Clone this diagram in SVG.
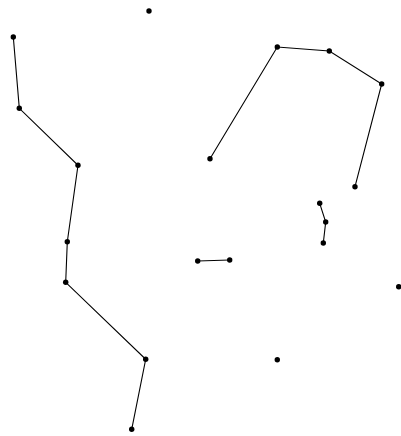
<svg xmlns="http://www.w3.org/2000/svg" width="401" height="436" viewBox="0 0 401 436">
<style>
.e{stroke:#000;stroke-width:1.1;fill:none}
.n{fill:#000}
</style>
<rect width="401" height="436" fill="#fff"/>
<g id="edges">
<polyline class="e" points="13.3,37 19.3,108.3 78,165.3 67.3,241.7 65.7,282.3 145.7,359.3 131.7,429.3"/>
<polyline class="e" points="210,158.7 277.3,47 329.3,51 381.7,84 355,186.7"/>
<polyline class="e" points="319.7,203.3 325.7,222 323.3,243"/>
<line class="e" x1="197.7" y1="261" x2="229.7" y2="260"/>
</g>
<g id="n1"><circle class="n" cx="149" cy="11" r="2.7"/></g>
<g id="n2"><circle class="n" cx="13.3" cy="37" r="2.7"/></g>
<g id="n3"><circle class="n" cx="19.3" cy="108.3" r="2.7"/></g>
<g id="n4"><circle class="n" cx="78" cy="165.3" r="2.7"/></g>
<g id="n5"><circle class="n" cx="67.3" cy="241.7" r="2.7"/></g>
<g id="n6"><circle class="n" cx="65.7" cy="282.3" r="2.7"/></g>
<g id="n7"><circle class="n" cx="145.7" cy="359.3" r="2.7"/></g>
<g id="n8"><circle class="n" cx="131.7" cy="429.3" r="2.7"/></g>
<g id="n9"><circle class="n" cx="210" cy="158.7" r="2.7"/></g>
<g id="n10"><circle class="n" cx="277.3" cy="47" r="2.7"/></g>
<g id="n11"><circle class="n" cx="329.3" cy="51" r="2.7"/></g>
<g id="n12"><circle class="n" cx="381.7" cy="84" r="2.7"/></g>
<g id="n13"><circle class="n" cx="355" cy="186.7" r="2.7"/></g>
<g id="n14"><circle class="n" cx="319.7" cy="203.3" r="2.7"/></g>
<g id="n15"><circle class="n" cx="325.7" cy="222" r="2.7"/></g>
<g id="n16"><circle class="n" cx="323.3" cy="243" r="2.7"/></g>
<g id="n17"><circle class="n" cx="197.7" cy="261" r="2.7"/></g>
<g id="n18"><circle class="n" cx="229.7" cy="260" r="2.7"/></g>
<g id="n19"><circle class="n" cx="398.7" cy="286.7" r="2.7"/></g>
<g id="n20"><circle class="n" cx="277.3" cy="359.7" r="2.7"/></g>
</svg>
